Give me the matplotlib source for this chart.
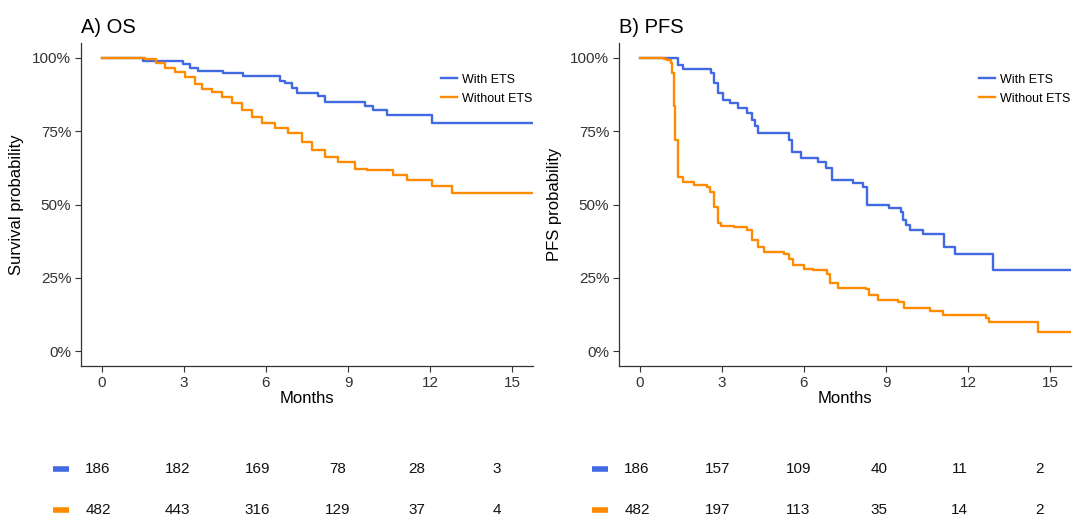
import matplotlib.pyplot as plt
import numpy as np

plt.rcParams['font.family'] = ['Liberation Sans', 'DejaVu Sans']

# Kaplan-Meier step points (months, probability)
os_with_t = [0, 1.5, 2.99, 3.24, 3.53, 4.44, 5.17, 6.52, 6.7, 6.95, 7.13, 7.9, 8.15, 9.61, 9.9, 10.41, 12.05, 15.75]
os_with_s = [1.0, 0.99, 0.98, 0.966, 0.953, 0.948, 0.936, 0.919, 0.913, 0.896, 0.879, 0.868, 0.85, 0.836, 0.822, 0.805, 0.777, 0.777]

os_without_t = [0, 1.5, 1.6, 1.97, 2.33, 2.69, 3.06, 3.42, 3.68, 4.04, 4.4, 4.77, 5.13, 5.5, 5.86, 6.33, 6.81,
                7.32, 7.68, 8.15, 8.63, 9.25, 9.68, 10.63, 11.14, 12.05, 12.78, 15.75]
os_without_s = [1.0, 1.0, 0.996, 0.981, 0.964, 0.95, 0.935, 0.912, 0.895, 0.884, 0.867, 0.844, 0.821, 0.798, 0.779,
                0.759, 0.742, 0.713, 0.685, 0.662, 0.645, 0.622, 0.618, 0.601, 0.584, 0.564, 0.54, 0.54]

pfs_with_t = [0, 1.39, 1.6, 2.6, 2.7, 2.85, 3.03, 3.32, 3.58, 3.94, 4.12, 4.23, 4.34, 5.45, 5.58, 5.88, 6.53, 6.79,
              7.04, 7.81, 8.14, 8.32, 9.09, 9.53, 9.6, 9.71, 9.89, 10.33, 11.1, 11.53, 12.92, 15.8]
pfs_with_s = [1.0, 0.975, 0.961, 0.948, 0.913, 0.879, 0.857, 0.845, 0.828, 0.811, 0.788, 0.766, 0.745, 0.72, 0.68,
              0.658, 0.646, 0.624, 0.584, 0.572, 0.561, 0.498, 0.487, 0.475, 0.447, 0.43, 0.413, 0.398, 0.356, 0.33,
              0.276, 0.276]

pfs_without_t = [0, 0.9, 1.02, 1.13, 1.2, 1.24, 1.31, 1.39, 1.42, 1.6, 1.97, 2.48, 2.59, 2.7, 2.85, 2.96, 3.43, 3.94,
                 4.12, 4.31, 4.53, 5.26, 5.45, 5.62, 5.99, 6.35, 6.86, 6.97, 7.23, 8.25, 8.36, 8.72, 9.42, 9.64,
                 10.62, 11.09, 12.63, 12.74, 14.53, 15.8]
pfs_without_s = [1.0, 0.997, 0.993, 0.982, 0.949, 0.834, 0.72, 0.607, 0.595, 0.578, 0.567, 0.561, 0.544, 0.492,
                 0.436, 0.427, 0.422, 0.413, 0.379, 0.356, 0.339, 0.333, 0.316, 0.294, 0.282, 0.276, 0.265, 0.231,
                 0.217, 0.211, 0.191, 0.176, 0.168, 0.146, 0.138, 0.123, 0.112, 0.1, 0.066, 0.066]

# numbers at risk
risk_times = [0, 3, 6, 9, 12, 15]
os_risk_with = [186, 182, 169, 78, 28, 3]
os_risk_without = [482, 443, 316, 129, 37, 4]
pfs_risk_with = [186, 157, 109, 40, 11, 2]
pfs_risk_without = [482, 197, 113, 35, 14, 2]

groups = ["With ETS", "Without ETS"]
colors = ["#4169E1", "#FF8C00"]

W, H = 1073, 520
fig = plt.figure(figsize=(W / 100, H / 100), dpi=100)


def px_axes(x0, y0, x1, y1):
    # axes from pixel box (top-left origin)
    return fig.add_axes([x0 / W, 1 - y1 / H, (x1 - x0) / W, (y1 - y0) / H])


def km_panel(ax, curves, title, ylabel):
    for (t, s), c, g in zip(curves, colors, groups):
        ax.step(t, s, where='post', color=c, lw=1.7, label=g)
    ax.set_xlim(-0.75, 15.75)
    ax.set_ylim(-0.05, 1.05)
    ax.set_xticks(risk_times)
    ax.set_yticks([0, 0.25, 0.5, 0.75, 1.0])
    ax.set_yticklabels(["0%", "25%", "50%", "75%", "100%"])
    for side in ['top', 'right']:
        ax.spines[side].set_visible(False)
    for side in ['left', 'bottom']:
        ax.spines[side].set_color('#333333')
        ax.spines[side].set_linewidth(0.9)
    ax.tick_params(colors='#333333', labelsize=11, length=4, width=0.8, pad=3)
    ax.set_xlabel("Months", fontsize=12, labelpad=1)
    ax.set_ylabel(ylabel, fontsize=12, labelpad=6)
    ax.set_title(title, loc='left', fontsize=14.5, pad=7)
    leg = ax.legend(loc='upper left', bbox_to_anchor=(0.785, 0.92), frameon=False, fontsize=9,
                    handlelength=1.3, handletextpad=0.4, labelspacing=0.55, borderaxespad=0)
    for h in leg.get_lines():
        h.set_linewidth(1.7)


ax1 = px_axes(81, 43, 533, 366)
km_panel(ax1, [(os_with_t, os_with_s), (os_without_t, os_without_s)], "A) OS", "Survival probability")

ax2 = px_axes(619, 43, 1071, 366)
km_panel(ax2, [(pfs_with_t, pfs_with_s), (pfs_without_t, pfs_without_s)], "B) PFS", "PFS probability")


def risk_table(x_zero, x_fifteen, rows):
    scale = (x_fifteen - x_zero) / 15.0
    x0, x1 = x_zero - 50, x_fifteen + 40
    ax = px_axes(x0, 450, x1, 520)
    ax.set_xlim((x0 - x_zero) / scale, (x1 - x_zero) / scale)
    ax.set_ylim(1.244, -0.463)
    ax.axis('off')
    for i, (vals, c) in enumerate(zip(rows, colors)):
        ax.plot([(-45) / scale, (-29) / scale], [i, i], color=c, lw=4, solid_capstyle='butt')
        for t, v in zip(risk_times, vals):
            ax.text(t, i, str(v), ha='center', va='center', fontsize=11, color='#111111')


risk_table(98, 497, [os_risk_with, os_risk_without])
risk_table(637, 1040, [pfs_risk_with, pfs_risk_without])

fig.savefig("out.png", dpi=100)
